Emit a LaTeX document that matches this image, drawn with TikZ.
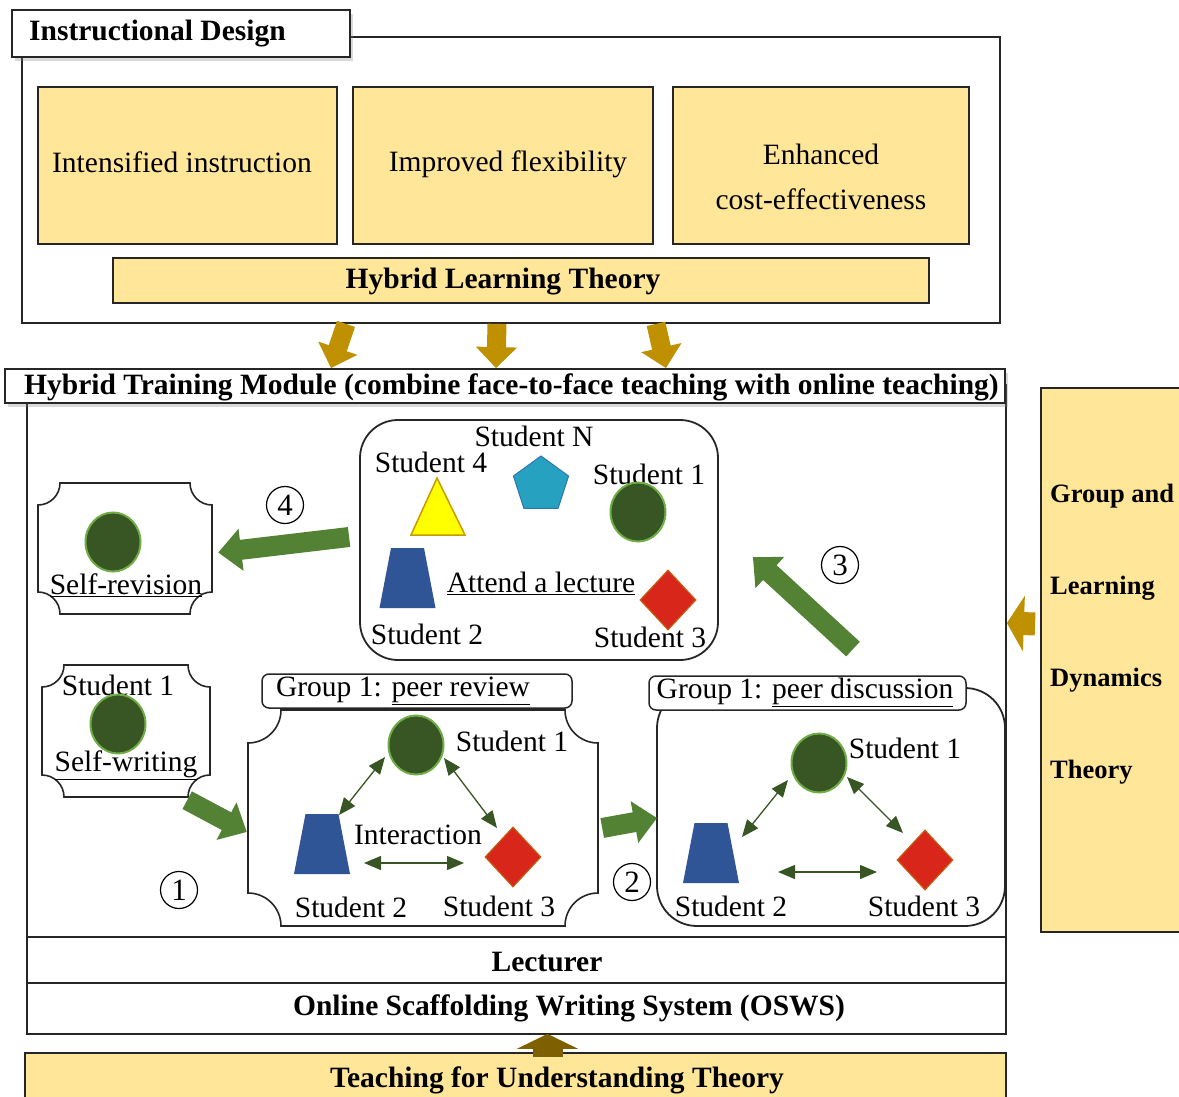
\documentclass[tikz,border=0pt]{standalone}
\usepackage{fontspec}
\setmainfont{Liberation Serif}
\usetikzlibrary{shapes.geometric,arrows.meta,calc,shadows}
\definecolor{yel}{HTML}{FFE699}
\definecolor{gold}{HTML}{BF9000}
\definecolor{brownA}{HTML}{7F6000}
\definecolor{blockg}{HTML}{548235}
\definecolor{dkg}{HTML}{375623}
\definecolor{ltg}{HTML}{70AD47}
\definecolor{trapb}{HTML}{2F5597}
\definecolor{pentf}{HTML}{27A1C0}
\definecolor{pentb}{HTML}{2E75B6}
\definecolor{redf}{HTML}{D8261A}
\definecolor{redb}{HTML}{C55A11}
\definecolor{trif}{HTML}{FFFF00}
\definecolor{trib}{HTML}{C99A00}
\newcommand\plaque[5]{%
\draw[line width=1.6pt, draw=black!85, fill=white]
 ({#1+#5},#2) -- ({#3-#5},#2)
 .. controls ({#3-#5},{#2+0.552*#5}) and ({#3-0.552*#5},{#2+#5}) .. (#3,{#2+#5})
 -- (#3,{#4-#5})
 .. controls ({#3-0.552*#5},{#4-#5}) and ({#3-#5},{#4-0.552*#5}) .. ({#3-#5},#4)
 -- ({#1+#5},#4)
 .. controls ({#1+#5},{#4-0.552*#5}) and ({#1+0.552*#5},{#4-#5}) .. (#1,{#4-#5})
 -- (#1,{#2+#5})
 .. controls ({#1+0.552*#5},{#2+#5}) and ({#1+#5},{#2+0.552*#5}) .. cycle;}
\newcommand\trapz[2]{%
\fill[trapb] ({#1-16.5},{#2-30}) -- ({#1+16.5},{#2-30}) -- ({#1+28},{#2+30}) -- ({#1-28},{#2+30}) -- cycle;}
\begin{document}
\begin{tikzpicture}[x=1pt,y=-1pt,
  every node/.style={font=\fontsize{29.5}{33}\selectfont, inner sep=0pt},
  bold/.style={font=\fontsize{29.5}{33}\selectfont\bfseries},
  gbold/.style={font=\fontsize{26.5}{30}\selectfont\bfseries, anchor=west},
  frame/.style={rectangle, draw=black!85, line width=1.8pt},
  ybox/.style={frame, fill=yel},
  tbox/.style={frame, fill=white, drop shadow={opacity=0.3,shadow xshift=3pt,shadow yshift=-4pt}},
  hbox/.style={rectangle, draw=black!85, line width=1.5pt, fill=white, rounded corners=7pt},
  stud/.style={ellipse, fill=dkg, draw=ltg, line width=2pt, minimum width=55pt, minimum height=59pt},
  dia/.style={diamond, fill=redf, draw=redb, line width=1.2pt, minimum width=56pt, minimum height=60pt},
  garrow/.style={line width=20pt, draw=blockg, arrows={-Triangle[width=41pt,length=23pt]}},
  goldarrow/.style={line width=19pt, draw=gold, arrows={-Triangle[width=40pt,length=21pt]}},
  dbl/.style={line width=1.3pt, draw=dkg, arrows={Triangle[width=14pt,length=17pt]-Triangle[width=14pt,length=17pt]}},
  num/.style={circle, draw, line width=1.2pt, minimum size=37pt, font=\fontsize{31}{33}\selectfont}]
\useasboundingbox (0,0) rectangle (1179,1097);

% ---------- Instructional Design ----------
\node[frame, minimum width=978pt, minimum height=286pt] (ID) at (511,180) {};
\node[tbox, minimum width=338pt, minimum height=47pt] (IDt) at (181,33.5) {};
\node[bold, anchor=west] (IDl) at (29,34) {Instructional Design};
\node[ybox, minimum width=299pt, minimum height=157pt] (b1) at (187.5,165.5) {};
\node[ybox, minimum width=300pt, minimum height=157pt] (b2) at (503,165.5) {};
\node[ybox, minimum width=296pt, minimum height=157pt] (b3) at (821,165.5) {};
\node (b1l) at (182,162) {Intensified instruction};
\node (b2l) at (508,164) {Improved flexibility};
\node (b3a) at (821,154) {Enhanced};
\node (b3b) at (821,199) {cost-effectiveness};
\node[ybox, minimum width=816pt, minimum height=45pt] (HLT) at (521,280.5) {};
\node[bold] (HLTl) at (503,282) {Hybrid Learning Theory};

% ---------- Hybrid Training Module ----------
\node[frame, minimum width=979pt, minimum height=552pt] (main) at (516.5,661) {};
\node[tbox, minimum width=1000pt, minimum height=34pt] (HTM) at (505,386) {};
\node[bold, anchor=west] (HTMl) at (24,387) {Hybrid Training Module (combine face-to-face teaching with online teaching)};
\node[frame, minimum width=979pt, minimum height=46pt] (Lect) at (516.5,960) {};
\node[bold] (Lectl) at (547,962) {Lecturer};
\node[frame, minimum width=979pt, minimum height=51pt] (OSWS) at (516.5,1008.5) {};
\node[bold] (OSWSl) at (569,1008) {Online Scaffolding Writing System (OSWS)};
\node[ybox, minimum width=981pt, minimum height=67pt] (TFU) at (515.5,1086.5) {};
\node[bold] (TFUl) at (557,1080) {Teaching for Understanding Theory};
\node[ybox, minimum width=149pt, minimum height=544pt] (GLD) at (1115.5,660) {};
\node[gbold] (g1) at (1050,496) {Group and};
\node[gbold] (g2) at (1050,588) {Learning};
\node[gbold] (g3) at (1050,680) {Dynamics};
\node[gbold] (g4) at (1050,772) {Theory};

% gold arrows
\draw[goldarrow] ($(ID.south)+(-165,0)$) -- ($(HTM.north)+(-174,0)$);
\draw[goldarrow] ($(ID.south)+(-14,0)$) -- ($(HTM.north)+(-9,0)$);
\draw[goldarrow] ($(ID.south)+(145,0)$) -- ($(HTM.north)+(161,0)$);
\draw[line width=23pt, draw=gold, arrows={-Triangle[width=55pt,length=17pt]}] ($(GLD.west)+(-5,-36)$) -- ($(main.east)+(0,-38)$);
\draw[line width=30pt, draw=brownA, arrows={-Triangle[width=61pt,length=15pt]}] ($(TFU.north)+(32,5)$) -- ($(OSWS.south)+(31,-1)$);

% ---------- Lecture box ----------
\node[frame, rounded corners=38pt, minimum width=358pt, minimum height=240pt] (L) at (539,540) {};
\node (tN) at (534,436) {Student N};
\node (t4) at (431,462) {Student 4};
\node (t1) at (649,474) {Student 1};
\filldraw[fill=trif, draw=trib, line width=1.5pt] (437,478) -- (465,535) -- (411,535) -- cycle;
\coordinate (s4) at (438,516);
\node[regular polygon, regular polygon sides=5, minimum size=58pt, fill=pentf, draw=pentb, line width=1pt] (sN) at (541,485) {};
\node[stud] (s1) at (638,512) {};
\trapz{407.5}{578}
\coordinate (s2) at (407.5,578);
\node (att) at (541,583) {\underline{Attend a lecture}};
\node[dia] (s3) at (668,600) {};
\node (t2) at (427,634) {Student 2};
\node (t3) at (650,637) {Student 3};

% ---------- Self-revision ----------
\plaque{38}{483}{212}{614}{22}
\node[minimum width=174pt, minimum height=131pt] (srev) at (125,548.5) {};
\node[stud] (sr1) at (113,542) {};
\node (srl) at (126,585) {\underline{Self-revision}};

% ---------- Self-writing ----------
\plaque{42}{665}{210}{797}{22}
\node[minimum width=168pt, minimum height=132pt] (swrite) at (126,731) {};
\node (swt) at (118,685) {Student 1};
\node[stud] (sw1) at (118,724) {};
\node (swl) at (126,765) {\underline{Self-writing}};

% ---------- Peer review ----------
\plaque{248}{710}{598}{926}{33}
\node[minimum width=350pt, minimum height=216pt] (PR) at (423,818) {};
\node[hbox, minimum width=310pt, minimum height=34pt] (PRh) at (417,691) {};
\node (PRhl) at (403,691) {Group 1: \underline{peer review}};
\node[stud] (C) at (416,745) {};
\node (Ct) at (512,741) {Student 1};
\trapz{322}{844}
\coordinate (T) at (322,844);
\node (inter) at (418,835) {Interaction};
\node[dia] (D) at (513,857) {};
\node (Tt) at (351,907) {Student 2};
\node (Dt) at (499,906) {Student 3};
\draw[dbl] ($(C)+(-31,12)$) -- ($(T)+(17,-29)$);
\draw[dbl] ($(C)+(28,13)$) -- ($(D)+(-16,-29)$);
\draw[dbl] ($(T)+(42,19)$) -- ($(D)+(-49,6)$);

% ---------- Peer discussion ----------
\node[rectangle, draw=black!85, line width=1.8pt, rounded corners=40pt, minimum width=348pt, minimum height=238pt] (PD) at (831,807) {};
\node[hbox, minimum width=317pt, minimum height=34pt] (PDh) at (807.5,693) {};
\node (PDhl) at (805,692) {Group 1: \underline{peer discussion}};
\node[stud] (C2) at (819,763) {};
\node (C2t) at (905,748) {Student 1};
\trapz{711}{853}
\coordinate (T2) at (711,853);
\node[dia] (D2) at (925,860) {};
\node (T2t) at (731,906) {Student 2};
\node (D2t) at (924,906) {Student 3};
\draw[dbl] ($(C2)+(-31,17)$) -- ($(T2)+(31,-16)$);
\draw[dbl] ($(C2)+(28,14)$) -- ($(D2)+(-22,-27)$);
\draw[dbl] ($(T2)+(67,19)$) -- ($(D2)+(-48,12)$);

% ---------- block arrows ----------
\draw[garrow] ($(L.west)+(-10,-3)$) -- ($(srev.east)+(6,4)$);
\draw[garrow] ($(PD.north)+(22,-38)$) -- ($(L.east)+(34,17)$);
\draw[garrow] ($(swrite.south east)+(-23,3)$) -- ($(PR.west)+(-1,14)$);
\draw[garrow] ($(PR.east)+(4,10)$) -- ($(PD.west)+(1,11)$);

% numbers
\node[num] (n1) at (179,890) {1};
\node[num] (n2) at (632,882) {2};
\node[num] (n3) at (840,565) {3};
\node[num] (n4) at (285,505) {4};
\end{tikzpicture}
\end{document}
